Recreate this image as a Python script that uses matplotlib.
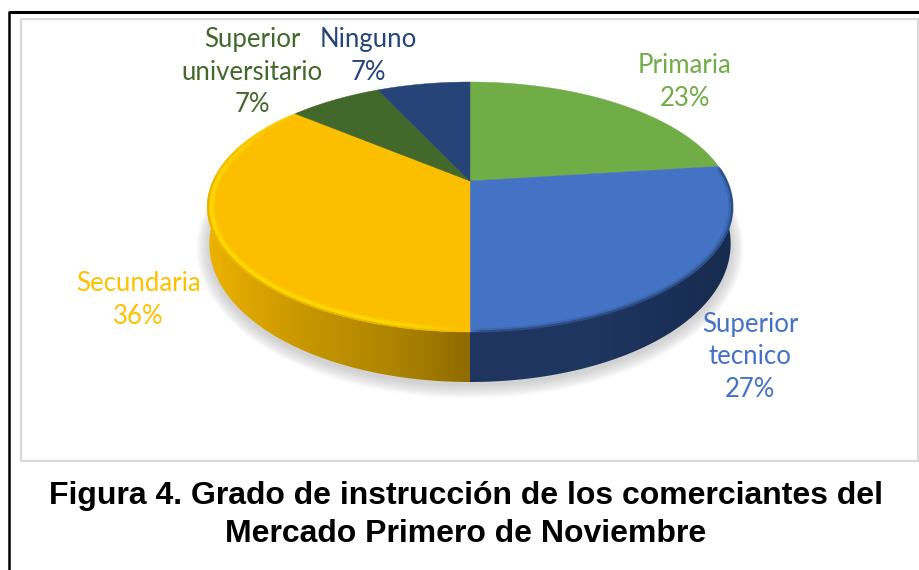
import numpy as np
import matplotlib
matplotlib.use("Agg")
import matplotlib.pyplot as plt
from matplotlib.collections import LineCollection
from matplotlib.patches import Polygon, Rectangle

categories = ["Primaria", "Superior\ntecnico", "Secundaria", "Superior\nuniversitario", "Ninguno"]
values = [23, 27, 36, 7, 7]
colors = ["#70AD47", "#4472C4", "#FCBF00", "#43682B", "#264478"]
label_colors = ["#70AD47", "#4472C4", "#FFC000", "#43682B", "#264478"]
label_pos = [(685, 82), (750, 357), (138, 300), (252, 72), (368, 56)]
title = "Figura 4. Grado de instrucción de los comerciantes del\nMercado Primero de Noviembre"

CX, CY = 470, 181
A, B, K = 119.6, 257.0, 0.208


def project(theta, scale=1.0):
    # clockwise from the top, circle seen in perspective
    u = np.sin(theta) * scale
    v = np.cos(theta) * scale
    d = 1 + K * v
    return CX + B * u / d, CY - A * v / d


def side_point(theta):
    x, y = project(theta)
    v = np.cos(theta)
    return CX + (x - CX) * 0.992, y + 33 - 17 * v


def gradient_side(ax, t0, t1, stops):
    th = np.linspace(t0, t1, 200)
    xa, ya = project(th)
    xb, yb = side_point(th[::-1])
    poly = Polygon(np.c_[np.r_[xa, xb], np.r_[ya, yb]], closed=True, fc="none", ec="none")
    ax.add_patch(poly)
    xs = np.linspace(stops[0][0], stops[-1][0], 300)
    rgb = np.zeros((1, 300, 3))
    for c in range(3):
        rgb[0, :, c] = np.interp(xs, [s[0] for s in stops],
                                 [matplotlib.colors.to_rgb(s[1])[c] for s in stops])
    im = ax.imshow(rgb, extent=(xs[0], xs[-1], 400, 150), aspect="auto", zorder=3)
    im.set_clip_path(poly)


def rim(ax, t0, t1, scale, col, lw, alpha, fade=0.12):
    # rim line that fades out at both ends
    t = np.linspace(t0, t1, 200)
    x, y = project(t, scale)
    pts = np.c_[x, y]
    segs = np.stack([pts[:-1], pts[1:]], axis=1)
    f = np.linspace(0, 1, len(segs))
    a = alpha * np.clip(np.minimum(f, 1 - f) / fade, 0, 1)
    rgba = np.tile(matplotlib.colors.to_rgba(col), (len(segs), 1))
    rgba[:, 3] = a
    ax.add_collection(LineCollection(segs, colors=rgba, linewidths=lw, zorder=5, capstyle="butt"))


fig = plt.figure(figsize=(9.2, 5.7), dpi=100)
ax = fig.add_axes([0, 0, 1, 1])

# outer black frame and the chart's grey frame
ax.add_patch(Rectangle((21, 18.5), 897, 442, fc="white", ec="#D9D9D9", lw=1.6, zorder=1))
ax.plot([9, 920], [12, 12], color="black", lw=2.2, zorder=1, solid_capstyle="butt")
ax.plot([9.5, 9.5], [11, 570], color="black", lw=1.8, zorder=1, solid_capstyle="butt")

# soft shadow under the pie
th = np.linspace(0, 2 * np.pi, 300)
for grow in np.linspace(13, 0, 14):
    x, y = side_point(th)
    x = CX + (x - CX) * (1 + grow / 263)
    y = (y - 230) * (1 + grow / 150) + 233
    ax.fill(x, y, color="#A8A8A8", alpha=0.045, lw=0, zorder=2)

fracs = np.cumsum([0] + values) / sum(values) * 2 * np.pi

# side walls
gradient_side(ax, fracs[1], fracs[2],
              [(470, "#20365F"), (600, "#1E3560"), (740, "#172A4E")])
gradient_side(ax, fracs[2], fracs[3],
              [(200, "#F0B400"), (300, "#C99800"), (400, "#AC8200"), (470, "#8F6B00")])

# top face
for i, col in enumerate(colors):
    t = np.linspace(fracs[i], fracs[i + 1], 120)
    x, y = project(t)
    ax.add_patch(Polygon(np.c_[np.r_[CX, x], np.r_[CY, y]], closed=True, fc=col, ec=col, lw=0.3, zorder=4))

# bevel on the rim, stacked to look soft
yellow_start = np.pi
yellow_end = np.radians(300)
rim(ax, yellow_start, yellow_end, 0.983, "#FFD800", 4.5, 0.35)
rim(ax, yellow_start, yellow_end, 0.985, "#FFE000", 2.5, 0.75)
rim(ax, yellow_start, yellow_end, 0.997, "#D9A600", 1.5, 0.5)
rim(ax, np.radians(270), fracs[3], 0.992, "#FFCC00", 3, 0.6)
rim(ax, fracs[1], np.pi, 0.992, "#2F5590", 3, 0.35, fade=0.02)
rim(ax, fracs[1], np.pi, 0.998, "#24416F", 1.8, 0.7, fade=0.02)

for name, val, col, (lx, ly) in zip(categories, values, label_colors, label_pos):
    ax.text(lx, ly, f"{name}\n{val}%", color=col, ha="center", va="center",
            fontsize=18.5, family="Lato", linespacing=1.38, zorder=6)

ax.text(466, 515, title, color="black", ha="center", va="center", fontsize=23,
        family="Liberation Sans", fontweight="bold", linespacing=1.32)

ax.set_xlim(0, 920)
ax.set_ylim(570, 0)
ax.axis("off")
fig.savefig("out.png", dpi=100)
